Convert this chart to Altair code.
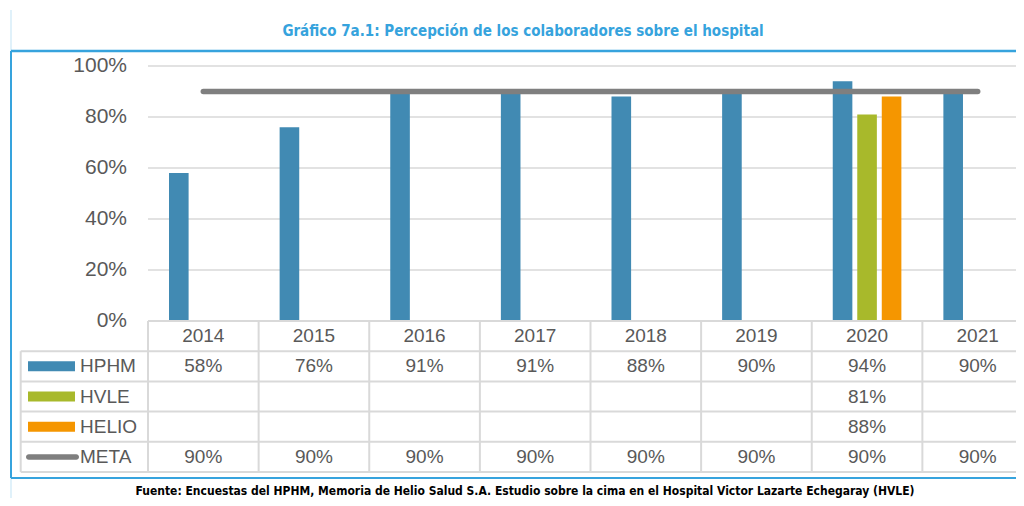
import altair as alt
import pandas as pd

# ---------------- data ----------------
years = ["2014", "2015", "2016", "2017", "2018", "2019", "2020", "2021"]
hphm = [58, 76, 91, 91, 88, 90, 94, 90]
hvle = [None, None, None, None, None, None, 81, None]
helio = [None, None, None, None, None, None, 88, None]
meta = [90, 90, 90, 90, 90, 90, 90, 90]
series = ["HPHM", "HVLE", "HELIO", "META"]
colors = ["#418ab3", "#a8b92b", "#f59600", "#7f7f7f"]
y_ticks = [0, 20, 40, 60, 80, 100]
title_text = "Gráfico 7a.1: Percepción de los colaboradores sobre el hospital"
footer_text = ("Fuente: Encuestas del HPHM, Memoria de Helio Salud S.A. Estudio sobre la cima "
               "en el Hospital Victor Lazarte Echegaray (HVLE)")
header_row = "Año"

# ---------------- tables ----------------
bar_rows = []
for s, vals in [("HPHM", hphm), ("HVLE", hvle), ("HELIO", helio)]:
    for yr, v in zip(years, vals):
        if v is not None:
            bar_rows.append({"year": yr, "series": s, "value": v})
bars_df = pd.DataFrame(bar_rows)
meta_df = pd.DataFrame({"year": years, "meta": meta})

table_rows = [{"year": yr, "row": header_row, "label": yr} for yr in years]
for s, vals in [("HPHM", hphm), ("HVLE", hvle), ("HELIO", helio), ("META", meta)]:
    for yr, v in zip(years, vals):
        if v is not None:
            table_rows.append({"year": yr, "row": s, "label": f"{v}%"})
table_df = pd.DataFrame(table_rows)
rows = [header_row] + series

ticks_df = pd.DataFrame({"tick": y_ticks, "label": [f"{t}%" for t in y_ticks]})
grid_df = pd.DataFrame({"tick": y_ticks[1:]})
legend_df = pd.DataFrame({"row": series})
one = pd.DataFrame({"a": [0]})

# ---------------- styles ----------------
W, H = 1005, 427
BLUE = "#36a3dd"
GRID = "#d9d9d9"
TXT = "#595959"
FONT = "Liberation Sans, Arial, sans-serif"
NARROW = "DejaVu Sans Condensed, Liberation Sans Narrow, sans-serif"

x_scale = alt.Scale(domain=years, range=[137, 1022], paddingInner=0, paddingOuter=0)
off_scale = alt.Scale(domain=["HPHM", "HVLE", "HELIO"], paddingInner=0.2, paddingOuter=0.857)
pct_scale = alt.Scale(domain=[0, 100], range=[270, 15], nice=False, zero=False)
row_scale = alt.Scale(domain=rows, range=[270, 421], paddingInner=0, paddingOuter=0)
color_scale = alt.Scale(domain=series, range=colors)

def X(field, bp=None):
    if bp is None:
        return alt.X(field, scale=x_scale, axis=None)
    return alt.X(field, scale=x_scale, axis=None, bandPosition=bp)

def Yrow(field, bp=0.5):
    return alt.Y(field, scale=row_scale, axis=None, bandPosition=bp)

grid = alt.Chart(grid_df).mark_rule(color=GRID, strokeWidth=1.5).encode(
    y=alt.Y("tick:Q", scale=pct_scale, axis=None), x=alt.value(137), x2=alt.value(W))

ylabels = alt.Chart(ticks_df).mark_text(align="right", baseline="middle", fontSize=21,
                                        color=TXT, font=FONT).encode(
    y=alt.Y("tick:Q", scale=pct_scale, axis=None), x=alt.value(116), text="label:N")

bars = alt.Chart(bars_df).mark_bar().encode(
    x=X("year:N"),
    xOffset=alt.XOffset("series:N", scale=off_scale),
    y=alt.Y("value:Q", scale=pct_scale, axis=None),
    color=alt.Color("series:N", scale=color_scale, legend=None))

line = alt.Chart(meta_df).mark_line(color="#7f7f7f", strokeWidth=5.5, strokeCap="round").encode(
    x=X("year:N", 0.5), y=alt.Y("meta:Q", scale=pct_scale, axis=None))

# table borders
hdr_top = alt.Chart(pd.DataFrame({"row": [header_row]})).mark_rule(color=GRID, strokeWidth=2).encode(
    y=Yrow("row:N", 0), x=alt.value(137), x2=alt.value(W))
row_tops = alt.Chart(legend_df).mark_rule(color=GRID, strokeWidth=2).encode(
    y=Yrow("row:N", 0), x=alt.value(9.7), x2=alt.value(W))
row_bottom = alt.Chart(pd.DataFrame({"row": [series[-1]]})).mark_rule(color=GRID, strokeWidth=2).encode(
    y=Yrow("row:N", 1), x=alt.value(9.7), x2=alt.value(W))
col_lines = alt.Chart(pd.DataFrame({"year": years})).mark_rule(color=GRID, strokeWidth=2).encode(
    x=X("year:N", 0), y=alt.value(270), y2=alt.value(421))
leg_left = alt.Chart(one).mark_rule(color=GRID, strokeWidth=2).encode(
    x=alt.value(9.7), y=alt.value(300.2), y2=alt.value(421))

table_text = alt.Chart(table_df).mark_text(baseline="middle", fontSize=19, color=TXT, font=FONT).encode(
    x=X("year:N", 0.5), y=Yrow("row:N"), text="label:N")

leg_text = alt.Chart(legend_df).mark_text(align="left", baseline="middle", fontSize=19,
                                          color=TXT, font=FONT).encode(
    x=alt.value(69), y=Yrow("row:N"), text="row:N")

swatch = alt.Chart(pd.DataFrame({"row": series[:3]})).mark_tick(
    orient="horizontal", size=47, thickness=10, opacity=1).encode(
    x=alt.value(40.5), y=Yrow("row:N"),
    color=alt.Color("row:N", scale=color_scale, legend=None))
meta_swatch = alt.Chart(pd.DataFrame({"row": [series[3]]})).mark_tick(
    orient="horizontal", size=53, thickness=5.5, cornerRadius=2.75, color="#7f7f7f", opacity=1).encode(
    x=alt.value(41.5), y=Yrow("row:N"))

# frame
frame_top = alt.Chart(one).mark_rule(color=BLUE, strokeWidth=2.5).encode(
    x=alt.value(0), x2=alt.value(W), y=alt.value(0))
frame_left = alt.Chart(one).mark_rule(color=BLUE, strokeWidth=2).encode(
    x=alt.value(0), y=alt.value(0), y2=alt.value(H))
frame_bottom = alt.Chart(one).mark_rule(color=BLUE, strokeWidth=2).encode(
    x=alt.value(0), x2=alt.value(W), y=alt.value(H))
faint_top = alt.Chart(one).mark_rule(color="#d6ecf8", strokeWidth=1.5).encode(
    x=alt.value(0), y=alt.value(-41), y2=alt.value(0))
faint_bottom = alt.Chart(one).mark_rule(color="#d6ecf8", strokeWidth=1.5).encode(
    x=alt.value(0), y=alt.value(H), y2=alt.value(H + 30))

title = alt.Chart(pd.DataFrame({"t": [title_text]})).mark_text(
    font=NARROW, fontWeight="bold", fontSize=15, color=BLUE, baseline="middle").encode(
    x=alt.value(512), y=alt.value(-20), text="t:N")
footer = alt.Chart(pd.DataFrame({"t": [footer_text]})).mark_text(
    font=NARROW, fontWeight="bold", fontSize=12, color="#000000", baseline="middle").encode(
    x=alt.value(514), y=alt.value(440), text="t:N")

chart = alt.layer(
    faint_top, faint_bottom, grid, ylabels, bars, line,
    hdr_top, row_tops, row_bottom, col_lines, leg_left,
    table_text, leg_text, swatch, meta_swatch,
    frame_top, frame_left, frame_bottom, title, footer,
).resolve_scale(y="independent").properties(
    width=W, height=H,
    autosize=alt.AutoSizeParams(type="none"),
    padding={"left": 3, "top": 43, "right": 0, "bottom": 20},
    background="white",
).configure_view(stroke=None)

chart.save("out.html", embed_options={"renderer": "svg", "actions": False})
